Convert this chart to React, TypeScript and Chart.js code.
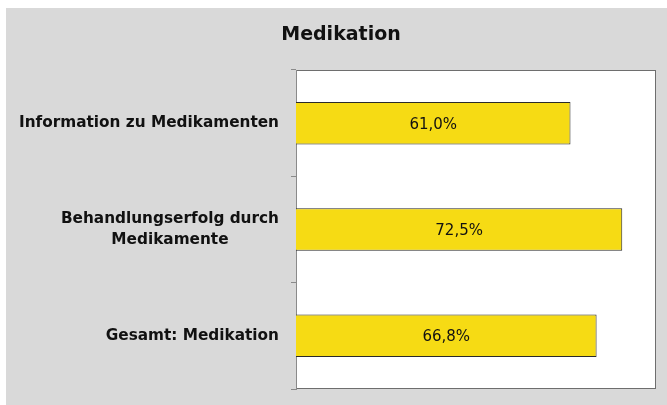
import React, { useEffect, useRef } from "react";
import { Chart, registerables } from "chart.js";

Chart.register(...registerables);

const chartTitle = "Medikation";
const categories: string[][] = [
  ["Information zu Medikamenten"],
  ["Behandlungserfolg durch", "Medikamente"],
  ["Gesamt: Medikation"],
];
const values: number[] = [61.0, 72.5, 66.8];
const valueLabels: string[] = ["61,0%", "72,5%", "66,8%"];
const axisMax = 80;

const FONT = "'DejaVu Sans', Verdana, sans-serif";

export default function App() {
  const ref = useRef<HTMLCanvasElement | null>(null);

  useEffect(() => {
    if (!ref.current) return;
    const plotFrame = {
      id: "plotFrame",
      beforeDraw(chart: any) {
        const { ctx, chartArea: a } = chart;
        ctx.save();
        ctx.fillStyle = "#ffffff";
        ctx.fillRect(a.left, a.top, a.right - a.left, a.bottom - a.top);
        ctx.strokeStyle = "#6e6e6e";
        ctx.lineWidth = 1;
        ctx.strokeRect(a.left + 0.5, a.top + 0.5, a.right - a.left - 1, a.bottom - a.top - 1);
        // title
        ctx.fillStyle = "#111111";
        ctx.font = `bold 19px ${FONT}`;
        ctx.textAlign = "center";
        ctx.textBaseline = "middle";
        ctx.fillText(chartTitle, 335, 27);
        ctx.restore();
      },
    };
    const labelsPlugin = {
      id: "labelsPlugin",
      afterDatasetsDraw(chart: any) {
        const { ctx, chartArea: a } = chart;
        const yScale = chart.scales.y;
        ctx.save();
        ctx.fillStyle = "#111111";
        ctx.textBaseline = "middle";
        ctx.textAlign = "center";
        // category labels: right-aligned blocks, lines centered within block
        ctx.font = `bold 15.3px ${FONT}`;
        const lineH = 21;
        categories.forEach((lines, i) => {
          const y = yScale.getPixelForTick(i);
          const w = Math.max(...lines.map((l) => ctx.measureText(l).width));
          const right = a.left - 17;
          const cx = right - w / 2;
          const y0 = y - ((lines.length - 1) * lineH) / 2;
          lines.forEach((l, j) => ctx.fillText(l, cx, y0 + j * lineH));
        });
        // value labels centered in bars
        ctx.font = `15px ${FONT}`;
        const meta = chart.getDatasetMeta(0);
        meta.data.forEach((bar: any, i: number) => {
          const cx = (bar.x + bar.base) / 2;
          ctx.fillText(valueLabels[i], cx, bar.y + 1.5);
        });
        ctx.restore();
      },
    };
    const chart = new Chart(ref.current, {
      type: "bar",
      data: {
        labels: categories.map((c) => c.join(" ")),
        datasets: [
          {
            data: values,
            backgroundColor: "#F6DB14",
            borderColor: "#2a2a2a",
            borderWidth: 1,
            borderSkipped: "start",
            barPercentage: 0.4,
            categoryPercentage: 1,
          },
        ],
      },
      options: {
        indexAxis: "y",
        animation: false,
        responsive: false,
        maintainAspectRatio: false,
        layout: { padding: { left: 0, right: 11, top: 62, bottom: 16 } },
        plugins: {
          legend: { display: false },
          tooltip: { enabled: false },
          title: { display: false },
        },
        scales: {
          x: { display: false, min: 0, max: axisMax },
          y: {
            display: true,
            offset: true,
            grid: {
              display: true,
              offset: true,
              drawOnChartArea: false,
              drawTicks: true,
              tickLength: 5,
              color: "#8a8a8a",
            },
            border: { display: true, color: "#8a8a8a" },
            ticks: { display: false },
            afterFit(scale: any) {
              scale.width = 290;
            },
          },
        },
      },
      plugins: [plotFrame, labelsPlugin],
    } as any);
    return () => chart.destroy();
  }, []);

  return (
    <div style={{ position: "fixed", left: 0, top: 0, width: 667, height: 405, background: "#ffffff", overflow: "hidden" }}>
      <div style={{ position: "absolute", left: 6, top: 8, width: 661, height: 397, background: "#D9D9D9" }}>
        <canvas ref={ref} width={661} height={397} style={{ display: "block", width: 661, height: 397 }} />
      </div>
    </div>
  );
}
